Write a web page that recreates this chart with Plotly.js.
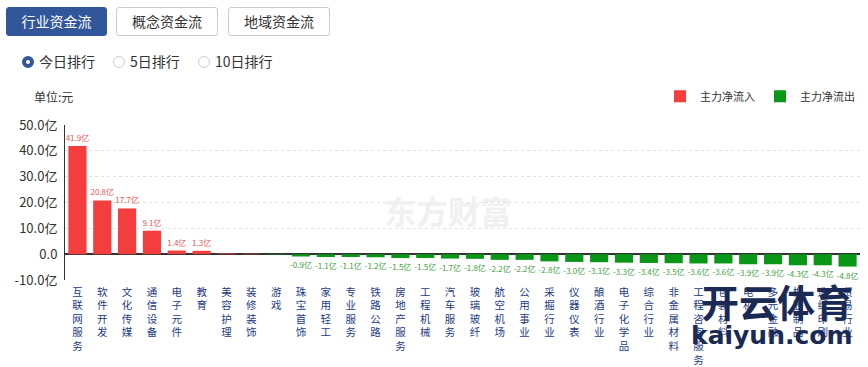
<!DOCTYPE html>
<html>
<head>
<meta charset="utf-8">
<script src="https://cdn.plot.ly/plotly-3.0.1.min.js"></script>
<style>
  html, body { margin: 0; padding: 0; background: #fff; }
  body { width: 868px; height: 367px; position: relative; overflow: hidden;
         font-family: "Noto Sans CJK SC", "Noto Sans", sans-serif; }
  #chart { position: absolute; left: 0; top: 0; width: 868px; height: 367px; }
  .btn { position: absolute; top: 7px; height: 27px; border: 1px solid #c9cdd4; border-radius: 3px;
         background: #fff; color: #333; font-size: 14px; line-height: 27px; text-align: center; box-sizing: content-box; z-index: 2; }
  .btn.on { background: #31579a; border-color: #31579a; color: #fff; }
  .radio { position: absolute; top: 51px; height: 20px; font-size: 14px; color: #333; line-height: 20px; z-index: 2; }
  .radio i { display: inline-block; width: 12px; height: 12px; border-radius: 50%; border: 1px solid #ccd; vertical-align: -1px; margin-right: 5px; box-sizing: border-box; }
  .radio.on i { border: 4px solid #31579a; }
  .unit { position: absolute; left: 34px; top: 88px; font-size: 12px; color: #333; z-index: 2; }
</style>
</head>
<body>
<div id="chart"></div>
<div class="btn on" style="left:6px;width:99px;">行业资金流</div>
<div class="btn" style="left:116px;width:100px;">概念资金流</div>
<div class="btn" style="left:228px;width:100px;">地域资金流</div>
<div class="radio on" style="left:22px;"><i></i>今日排行</div>
<div class="radio" style="left:113px;"><i></i>5日排行</div>
<div class="radio" style="left:198px;"><i></i>10日排行</div>
<div class="unit">单位:元</div>
<script>
const categories = ["互联网服务","软件开发","文化传媒","通信设备","电子元件","教育","美容护理","装修装饰","游戏",
  "珠宝首饰","家用轻工","专业服务","铁路公路","房地产服务","工程机械","汽车服务","玻璃玻纤","航空机场","公用事业",
  "采掘行业","仪器仪表","酿酒行业","电子化学品","综合行业","非金属材料","工程咨询服务","包装材料","电机","多元金融",
  "橡胶制品","造纸印刷","贸易行业"];
const netFlow = [41.9,20.8,17.7,9.1,1.4,1.3,0.3,0.2,-0.2,
  -0.9,-1.1,-1.1,-1.2,-1.5,-1.5,-1.7,-1.8,-2.2,-2.2,
  -2.8,-3.0,-3.1,-3.3,-3.4,-3.5,-3.6,-3.6,-3.9,-3.9,
  -4.3,-4.3,-4.8];
const yTickVals = [-10,0,10,20,30,40,50];
const yTickText = ["-10.0亿","0.0","10.0亿","20.0亿","30.0亿","40.0亿","50.0亿"];
const seriesNames = ["主力净流入","主力净流出"];

const RED = "#f43d3d", GREEN = "#0a9616";
const lbl = v => Math.abs(v) >= 0.5 ? v.toFixed(1) + "亿" : "";
const inflow = netFlow.map(v => v > 0 ? v : null);
const outflow = netFlow.map(v => v < 0 ? v : null);
const stacked = categories.map(c => c.split("").join("<br>"));

const common = {type: "bar", x: categories, textposition: "outside", cliponaxis: false,
  constraintext: "none", hoverinfo: "x+y"};
const traces = [
  Object.assign({}, common, {name: seriesNames[0], y: inflow, marker: {color: RED},
    text: inflow.map(v => v == null ? "" : lbl(v)), textfont: {size: 8, color: "#e85656"}}),
  Object.assign({}, common, {name: seriesNames[1], y: outflow, marker: {color: GREEN},
    text: outflow.map(v => v == null ? "" : lbl(v)), textfont: {size: 8, color: "#3d9e3d"}})
];

const layout = {
  width: 868, height: 367,
  margin: {l: 65, r: 8, t: 125, b: 87},
  paper_bgcolor: "#fff", plot_bgcolor: "#fff",
  font: {family: "Noto Sans CJK SC, sans-serif", color: "#333"},
  barmode: "relative", bargap: 0.27,
  showlegend: true,
  legend: {orientation: "h", x: 1, xanchor: "right", y: 1.185, yanchor: "middle",
    font: {size: 11, color: "#333"}, itemwidth: 30, traceorder: "normal"},
  xaxis: {type: "category", tickmode: "array", tickvals: categories, ticktext: stacked,
    tickfont: {size: 10.5, color: "#1d3a84"}, showline: false, ticks: "", showgrid: false,
    zeroline: false, ticklabelstandoff: 4, tickangle: 0, fixedrange: true},
  yaxis: {range: [-10, 50], tickmode: "array", tickvals: yTickVals, ticktext: yTickText,
    tickfont: {size: 13, color: "#333"}, showline: true, linecolor: "#333", linewidth: 1,
    showgrid: true, gridcolor: "#e3e3e3", griddash: "dot", zeroline: true, zerolinecolor: "#333",
    zerolinewidth: 1.5, ticks: "", ticklabelstandoff: 4, fixedrange: true},
  annotations: [
    {xref: "paper", yref: "paper", x: 0.482, y: 0.45, xanchor: "center", yanchor: "middle",
     text: "<b>东方财富</b>", showarrow: false, font: {size: 32, color: "#f0f0f0"}},
    {xref: "paper", yref: "paper", x: 0.895, y: -0.135, xanchor: "center", yanchor: "middle",
     text: "<b>开云体育</b>", showarrow: false, font: {size: 38, color: "#1b2a55"}},
    {xref: "paper", yref: "paper", x: 0.889, y: -0.36, xanchor: "center", yanchor: "middle",
     text: "<b>kaiyun.com</b>", showarrow: false,
     font: {size: 25, color: "#1b2a55", family: "DejaVu Sans, sans-serif"}}
  ]
};
Plotly.newPlot("chart", traces, layout, {displayModeBar: false, staticPlot: true});
</script>
</body>
</html>
